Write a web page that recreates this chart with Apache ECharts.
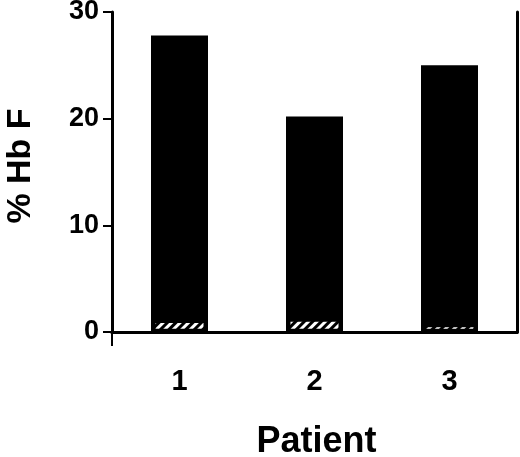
<!DOCTYPE html>
<html>
<head>
<meta charset="utf-8">
<script src="https://cdn.jsdelivr.net/npm/echarts@6/dist/echarts.min.js"></script>
<style>html,body{margin:0;padding:0;background:#fff;}#c{width:520px;height:457px;}</style>
</head>
<body>
<div id="c"></div>
<script>
var categories = ['1', '2', '3'];
var hbfTreated = [27.8, 20.2, 25.0];
var hbfBaseline = [0.85, 0.95, 0.45];
var yTicks = [0, 10, 20, 30];

var GAP = 0.3;
var FONT = '"Liberation Sans", Arial, Helvetica, sans-serif';
var chart = echarts.init(document.getElementById('c'), null, {renderer: 'canvas'});
var option = {
  animation: false,
  grid: {left: 112, right: 3, top: 12, bottom: 125, containLabel: false, outerBoundsMode: 'none'},
  xAxis: [{
    type: 'category',
    data: categories,
    boundaryGap: true,
    name: 'Patient',
    nameLocation: 'middle',
    nameGap: 92,
    nameTextStyle: {fontFamily: FONT, fontWeight: 'bold', fontSize: 36, color: '#000', padding: [0, 0, 0, 4]},
    axisLine: {lineStyle: {color: '#000', width: 3}},
    axisTick: {show: false},
    axisLabel: {margin: 35, fontFamily: FONT, fontWeight: 'bold', fontSize: 29, color: '#000'},
    splitLine: {show: false}
  }, {
    type: 'category',
    data: categories,
    position: 'top',
    axisLine: {lineStyle: {color: '#000', width: 3}},
    axisTick: {show: false},
    axisLabel: {show: false}
  }, {
    type: 'value',
    min: 0, max: 1,
    position: 'bottom',
    offset: 0,
    axisLine: {show: false},
    axisTick: {show: true, length: 14, customValues: [0], lineStyle: {color: '#000', width: 2}},
    axisLabel: {show: false},
    splitLine: {show: false}
  }],
  yAxis: [{
    type: 'value',
    min: 0, max: 30, interval: 10,
    name: '% Hb F',
    nameLocation: 'middle',
    nameGap: 74,
    nameRotate: 90,
    nameTextStyle: {fontFamily: FONT, fontWeight: 'bold', fontSize: 34, color: '#000', padding: [0, 0, 0, 12]},
    axisLine: {show: true, lineStyle: {color: '#000', width: 3}},
    axisTick: {show: true, length: 9, lineStyle: {color: '#000', width: 2}},
    axisLabel: {margin: 13, fontFamily: FONT, fontWeight: 'bold', fontSize: 27, color: '#000'},
    splitLine: {show: false}
  }, {
    type: 'value',
    min: 0, max: 30, interval: 10,
    position: 'right',
    axisLine: {show: true, lineStyle: {color: '#000', width: 3}},
    axisTick: {show: false},
    axisLabel: {show: false},
    splitLine: {show: false}
  }],
  series: [{
    type: 'bar',
    name: 'treated',
    xAxisIndex: 0,
    data: hbfTreated,
    barWidth: 57,
    itemStyle: {color: '#000'},
    z: 2
  }, {
    type: 'bar',
    name: 'gap',
    xAxisIndex: 1,
    stack: 'base',
    data: hbfBaseline.map(function () { return GAP; }),
    barWidth: 48,
    itemStyle: {color: '#000'},
    z: 3
  }, {
    type: 'bar',
    name: 'baseline',
    xAxisIndex: 1,
    stack: 'base',
    data: hbfBaseline.map(function (v) { return v - GAP; }),
    barWidth: 48,
    itemStyle: {
      color: '#000',
      decal: {symbol: 'rect', color: '#fff', dashArrayX: [1, 0], dashArrayY: [3, 3], rotation: -Math.PI / 4, symbolSize: 1}
    },
    z: 3
  }]
};
chart.setOption(option);
</script>
</body>
</html>
